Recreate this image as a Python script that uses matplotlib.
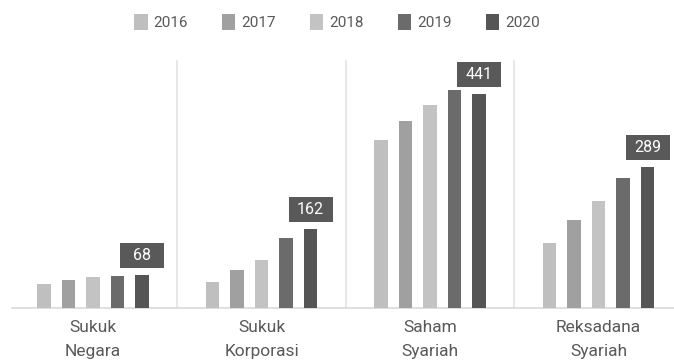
import matplotlib
matplotlib.use("Agg")
import matplotlib.pyplot as plt
import numpy as np
from matplotlib.patches import Patch, Rectangle
from matplotlib.transforms import ScaledTranslation

categories = ["Sukuk\nNegara", "Sukuk\nKorporasi", "Saham\nSyariah", "Reksadana\nSyariah"]
years = ["2016", "2017", "2018", "2019", "2020"]
v2016 = [50, 53, 346, 133]
v2017 = [57, 79, 385, 181]
v2018 = [64, 99, 417, 220]
v2019 = [65, 143, 449, 268]
v2020 = [68, 162, 441, 289]
series = [v2016, v2017, v2018, v2019, v2020]
colors = ["#bfbfbf", "#a0a0a0", "#c3c3c3", "#6b6b6b", "#555555"]
label_color = "#595959"
text_color = "#595959"

plt.rcParams['font.family'] = ['Roboto', 'DejaVu Sans']

W, H = 674, 361
fig = plt.figure(figsize=(W / 100, H / 100), dpi=100)
left_px, right_px, top_px, bottom_px = 12, 674, 60, 308
ax = fig.add_axes([left_px / W, 1 - bottom_px / H, (right_px - left_px) / W, (bottom_px - top_px) / H])

x = np.arange(len(categories))
step = 0.1455
bw = 0.08
for i, (vals, c) in enumerate(zip(series, colors)):
    ax.bar(x + (i - 2) * step, vals, width=bw, color=c, zorder=3)

ax.set_xlim(-0.481, 3.448)
ax.set_ylim(0, 510)

# value label boxes (fixed size, in inches at dpi 100)
bw_in, bh_in, gap_in = 0.44, 0.25, 0.07
for xi, v in zip(x, v2020):
    trans = fig.dpi_scale_trans + ScaledTranslation(xi + 2 * step, v, ax.transData)
    ax.add_patch(Rectangle((-bw_in / 2, gap_in), bw_in, bh_in, transform=trans,
                           facecolor=label_color, edgecolor="none", zorder=5, clip_on=False))
    ax.text(0, gap_in + bh_in / 2, str(v), transform=trans, ha="center", va="center",
            color="white", fontsize=11.5, zorder=6, clip_on=False)

for s in x[:-1]:
    ax.axvline(s + 0.5, color="#e3e3e3", lw=1.2, zorder=1)

for side in ["top", "right", "left"]:
    ax.spines[side].set_visible(False)
ax.spines["bottom"].set_color("#d9d9d9")
ax.spines["bottom"].set_linewidth(1.2)
ax.set_yticks([])
ax.set_xticks(x)
ax.set_xticklabels(categories, fontsize=12.5, color=text_color, linespacing=1.75)
ax.tick_params(axis="x", length=0, pad=8.5)

handles = [Patch(facecolor=c, edgecolor="none") for c in colors]
fig.legend(handles, years, loc="center", bbox_to_anchor=(0.5, 1 - 22 / H), ncol=5,
           frameon=False, fontsize=11, handlelength=0.9, handleheight=1.2,
           handletextpad=0.4, columnspacing=2.2, labelcolor=text_color)

fig.savefig("out.png", dpi=100)
